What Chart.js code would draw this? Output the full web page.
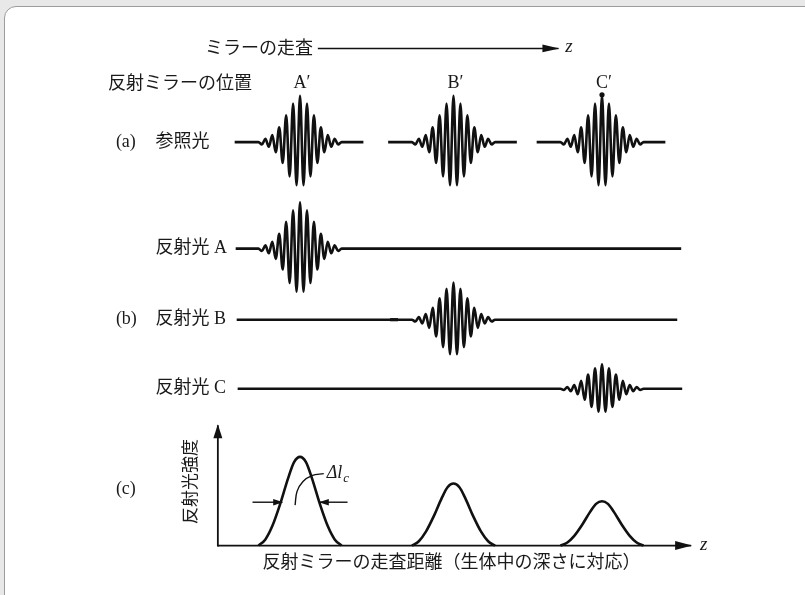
<!DOCTYPE html>
<html>
<head>
<meta charset="utf-8">
<title>反射ミラーの走査と反射光強度</title>
<script src="https://cdn.jsdelivr.net/npm/chart.js@4.4.1/dist/chart.umd.min.js"></script>
<style>
  html, body { margin: 0; padding: 0; background: #e8e8e8; overflow: hidden; }
  #card { position: absolute; left: 4px; top: 6px; width: 830px; height: 630px;
          background: #fff; border: 1px solid #9c9c9c; border-radius: 12px; }
  #wrap { position: absolute; left: 0; top: 0; width: 805px; height: 595px; }
</style>
</head>
<body>
<div id="card"></div>
<div id="wrap"><canvas id="chart" width="805" height="595"></canvas></div>
<script>
// ── データ ─────────────────────────────────────────────
// 反射ミラーの位置 (z 方向)
const mirrorNames = ['A′', 'B′', 'C′'];
const mirrorZ = [299, 454, 604];
// 参照光の波束: 中心から半周期ごとの極値の大きさ (中心 = 1)
const packetAmps = [1.0, 0.93, 0.83, 0.74, 0.58, 0.45, 0.32, 0.22, 0.15, 0.10, 0.07, 0.05];
// 参照光 (a) の各区間
const refStart = [233, 388, 538];
const refEnd   = [363, 518, 668];
// 反射光 A, B, C
const reflNames = ['反射光 A', '反射光 B', '反射光 C'];
const reflScale = [1.0, 0.8, 0.53];
const reflStart = [234, 235, 236];
const reflEnd   = [684, 680, 685];
// (c) 反射光強度: ピーク高さ比と1つのピークの形
const peakHeights = [1.0, 0.7, 0.5];
const peakDz    = [-42, -35, -28, -20, -12, -6, 0, 6, 12, 20, 28, 35, 42];
const peakShape = [0, 0.07, 0.22, 0.47, 0.76, 0.94, 1, 0.94, 0.76, 0.47, 0.22, 0.07, 0];

// ── レイアウト ─────────────────────────────────────────
const ROW_REF = 140;
const ROWS = [248, 320, 390];
const WAVE_AMP = 47;
const HALF_PERIOD = 3.5;
const AX_X0 = 216, AX_Y0 = 549, AX_TOP = 427, AX_RIGHT = 694, PEAK_H = 90;
const INK = '#111';

function packet(center, base, scale, from, to) {
  const n = packetAmps.length - 1;
  const pts = [{ x: from, y: base }, { x: center - (n + 1) * HALF_PERIOD, y: base }];
  for (let i = -n; i <= n; i++) {
    const a = packetAmps[Math.abs(i)] * scale * WAVE_AMP;
    pts.push({ x: center + i * HALF_PERIOD, y: base - (i % 2 === 0 ? a : -a) });
  }
  pts.push({ x: center + (n + 1) * HALF_PERIOD, y: base }, { x: to, y: base });
  return pts;
}

const line = (data, extra = {}) => Object.assign({
  data, showLine: true, pointRadius: 0, borderColor: INK, borderWidth: 2.2,
  fill: false, cubicInterpolationMode: 'monotone'
}, extra);

const datasets = [];

// (a) 参照光
mirrorZ.forEach((z, i) => {
  datasets.push(line(packet(z, ROW_REF, 1, refStart[i], refEnd[i]), { borderWidth: 2.6 }));
});
// C′ の印
datasets.push({ data: [{ x: mirrorZ[2], y: ROW_REF - WAVE_AMP * packetAmps[0] - 1 }],
  pointRadius: 2.6, backgroundColor: INK, borderWidth: 0 });

// (b) 反射光
mirrorZ.forEach((z, i) => {
  datasets.push(line(packet(z, ROWS[i], reflScale[i], reflStart[i], reflEnd[i]), { borderWidth: 2.6 }));
});
datasets.push(line([{ x: 390, y: ROWS[1] }, { x: 398, y: ROWS[1] }], { borderWidth: 3.2 }));

// (c) 反射光強度
mirrorZ.forEach((z, i) => {
  datasets.push(line(peakDz.map((d, k) => ({ x: z + d, y: AX_Y0 - peakShape[k] * peakHeights[i] * PEAK_H })),
    { borderWidth: 2.6 }));
});

// 軸と矢印
datasets.push(line([{ x: AX_X0, y: AX_Y0 }, { x: AX_RIGHT, y: AX_Y0 }], { borderWidth: 1.8, arrowHead: [16, 4.5] }));
datasets.push(line([{ x: AX_X0, y: AX_Y0 + 1 }, { x: AX_X0, y: AX_TOP }], { borderWidth: 1.8, arrowHead: [13, 4.5] }));
datasets.push(line([{ x: 317, y: 45 }, { x: 560, y: 45 }], { borderWidth: 1.5, arrowHead: [16, 3.8] }));
// Δl_c の矢印と引き出し線
datasets.push(line([{ x: 251, y: 505 }, { x: 281, y: 505 }], { borderWidth: 1.4, arrowHead: [9, 3.2] }));
datasets.push(line([{ x: 347, y: 505 }, { x: 319, y: 505 }], { borderWidth: 1.4, arrowHead: [9, 3.2] }));
datasets.push(line([{ x: 294, y: 508 }, { x: 296, y: 494 }, { x: 302, y: 484 }, { x: 311, y: 478 }, { x: 323, y: 476 }],
  { borderWidth: 1.4, cubicInterpolationMode: 'default', tension: 0.4 }));

// ── プラグイン ─────────────────────────────────────────
const arrowPlugin = {
  id: 'arrowHeads',
  afterDatasetsDraw(chart) {
    const ctx = chart.ctx;
    chart.data.datasets.forEach((ds, i) => {
      if (!ds.arrowHead) return;
      const pts = chart.getDatasetMeta(i).data;
      const tip = pts[pts.length - 1], prev = pts[pts.length - 2];
      const ang = Math.atan2(tip.y - prev.y, tip.x - prev.x);
      const [len, half] = ds.arrowHead;
      ctx.save();
      ctx.translate(tip.x, tip.y);
      ctx.rotate(ang);
      ctx.beginPath();
      ctx.moveTo(1, 0);
      ctx.lineTo(-len, -half);
      ctx.lineTo(-len, half);
      ctx.closePath();
      ctx.fillStyle = INK;
      ctx.fill();
      ctx.restore();
    });
  }
};

const JP = "18px 'Liberation Serif', 'Noto Sans CJK JP', serif";
const texts = [
  ['ミラーの走査', 203, 46, JP, 'left'],
  ['反射ミラーの位置', 105, 81, JP, 'left'],
  ['(a)', 113, 140, JP, 'left'],
  ['参照光', 153, 140, JP, 'left'],
  [reflNames[0], 153, ROWS[0], JP, 'left'],
  ['(b)', 113, ROWS[1], JP, 'left'],
  [reflNames[1], 153, ROWS[1], JP, 'left'],
  [reflNames[2], 153, ROWS[2], JP, 'left'],
  ['(c)', 113, 492, JP, 'left'],
  ['反射ミラーの走査距離（生体中の深さに対応）', 452, 567, JP, 'center'],
  ['z', 567, 44, "italic 19px 'Liberation Serif', serif", 'left'],
  ['z', 703, 548, "italic 19px 'Liberation Serif', serif", 'left'],
];

const labelsPlugin = {
  id: 'labels',
  afterDraw(chart) {
    const { ctx, scales: { x, y } } = chart;
    ctx.save();
    ctx.fillStyle = '#1a1a1a';
    ctx.textBaseline = 'middle';
    texts.forEach(([t, tx, ty, font, align]) => {
      ctx.font = font;
      ctx.textAlign = align;
      ctx.fillText(t, x.getPixelForValue(tx), y.getPixelForValue(ty));
    });
    ctx.font = JP;
    ctx.textAlign = 'center';
    mirrorNames.forEach((n, i) => ctx.fillText(n, x.getPixelForValue(mirrorZ[i] + 2), y.getPixelForValue(80)));

    // 縦軸ラベル
    ctx.save();
    ctx.translate(x.getPixelForValue(187), y.getPixelForValue(484));
    ctx.rotate(-Math.PI / 2);
    ctx.font = "17px 'Noto Sans CJK JP', sans-serif";
    ctx.fillText('反射光強度', 0, 0);
    ctx.restore();

    // Δl_c
    ctx.textAlign = 'left';
    ctx.font = "italic 18px 'Liberation Serif', serif";
    ctx.fillText('Δl', x.getPixelForValue(326), y.getPixelForValue(476));
    const w = ctx.measureText('Δl').width;
    ctx.font = "italic 13px 'Liberation Serif', serif";
    ctx.fillText('c', x.getPixelForValue(326) + w + 1, y.getPixelForValue(481));
    ctx.restore();
  }
};

new Chart(document.getElementById('chart'), {
  type: 'scatter',
  data: { datasets },
  options: {
    responsive: false,
    animation: false,
    layout: { padding: 0 },
    plugins: { legend: { display: false }, tooltip: { enabled: false } },
    scales: {
      x: { type: 'linear', min: 0, max: 805, display: false },
      y: { type: 'linear', min: 0, max: 595, reverse: true, display: false }
    }
  },
  plugins: [arrowPlugin, labelsPlugin]
});
</script>
</body>
</html>
